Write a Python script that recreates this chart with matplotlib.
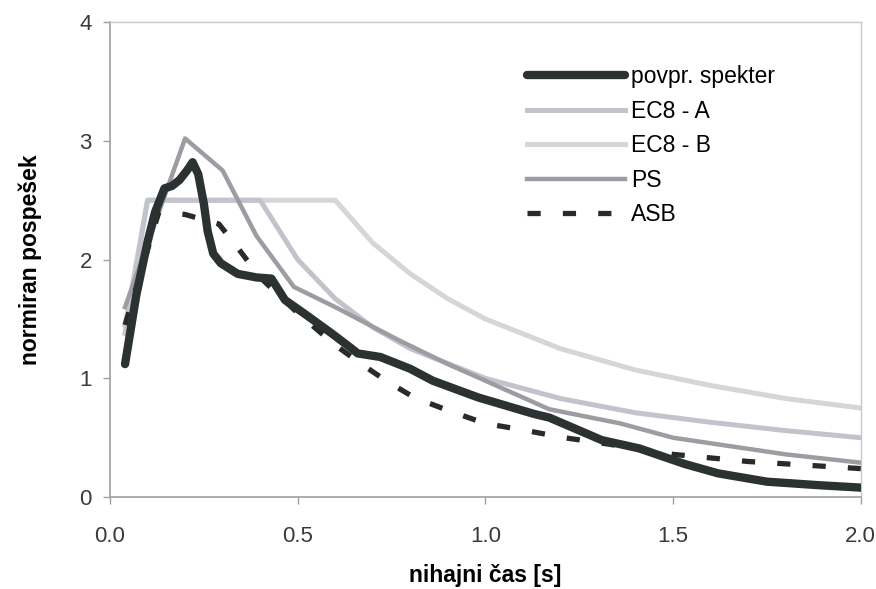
import matplotlib.pyplot as plt

# Values
# povpr. spekter (average spectrum)
avg_t = [0.04, 0.07, 0.10, 0.12, 0.145, 0.165, 0.185, 0.205, 0.22, 0.235, 0.25, 0.26,
         0.275, 0.295, 0.34, 0.39, 0.43, 0.466, 0.52, 0.59, 0.64, 0.66, 0.72, 0.80,
         0.86, 0.98, 1.13, 1.17, 1.31, 1.41, 1.53, 1.62, 1.75, 1.89, 2.0]
avg_sa = [1.12, 1.70, 2.15, 2.40, 2.60, 2.62, 2.67, 2.75, 2.82, 2.72, 2.47, 2.24,
          2.05, 1.97, 1.88, 1.85, 1.84, 1.66, 1.54, 1.38, 1.26, 1.21, 1.18, 1.08,
          0.98, 0.84, 0.70, 0.67, 0.48, 0.41, 0.28, 0.20, 0.13, 0.10, 0.08]

# EC8 - A
ec8a_t = [0.04, 0.10, 0.40, 0.50, 0.60, 0.70, 0.80, 1.0, 1.2, 1.4, 1.6, 1.8, 2.0]
ec8a_sa = [1.38, 2.50, 2.50, 2.00, 1.67, 1.43, 1.25, 1.0, 0.83, 0.71, 0.63, 0.56, 0.50]

# EC8 - B
ec8b_t = [0.04, 0.10, 0.60, 0.70, 0.80, 0.90, 1.0, 1.2, 1.4, 1.6, 1.8, 2.0]
ec8b_sa = [1.45, 2.50, 2.50, 2.14, 1.88, 1.67, 1.50, 1.25, 1.07, 0.94, 0.83, 0.75]

# PS
ps_t = [0.04, 0.20, 0.30, 0.39, 0.49, 0.60, 0.77, 0.90, 1.0, 1.17, 1.36, 1.5, 1.8, 2.0]
ps_sa = [1.60, 3.02, 2.75, 2.20, 1.77, 1.60, 1.32, 1.12, 0.98, 0.74, 0.62, 0.50, 0.36, 0.29]

# ASB
asb_t = [0.04, 0.13, 0.20, 0.29, 0.34, 0.40, 0.50, 0.60, 0.67, 0.74, 0.81, 0.90, 1.0,
         1.11, 1.21, 1.30, 1.50, 1.60, 1.70, 1.80, 1.90, 2.0]
asb_sa = [1.45, 2.40, 2.38, 2.30, 2.10, 1.85, 1.55, 1.28, 1.12, 0.97, 0.84, 0.73, 0.62,
          0.56, 0.50, 0.46, 0.36, 0.33, 0.30, 0.28, 0.26, 0.24]

plt.rcParams['font.family'] = ['Liberation Sans', 'DejaVu Sans']

fig = plt.figure(figsize=(8.76, 5.89), dpi=100)
# plot box: x 110..861 px, y 22..497 px
ax = fig.add_axes([0.1256, 0.156, 0.857, 0.8065])

# light lines first, black average spectrum on top
ax.plot(ec8b_t, ec8b_sa, color='#d6d6d8', lw=3.6, label='EC8 - B', zorder=2)
ax.plot(ec8a_t, ec8a_sa, color='#c3c3cc', lw=3.6, label='EC8 - A', zorder=3)
ax.plot(ps_t, ps_sa, color='#9c9ca2', lw=3.2, label='PS', zorder=4)
ax.plot(asb_t, asb_sa, color='#2a2a2a', lw=3.8, dashes=(2.5, 4.2), label='ASB', zorder=5)
ax.plot(avg_t, avg_sa, color='#2c3131', lw=6.0, solid_capstyle='round',
        label='povpr. spekter', zorder=6)

ax.set_xlim(0, 2.0)
ax.set_ylim(0, 4)
ax.set_xticks([0.0, 0.5, 1.0, 1.5, 2.0])
ax.set_xticklabels(['0.0', '0.5', '1.0', '1.5', '2.0'])
ax.set_yticks([0, 1, 2, 3, 4])

# frame: grey axes, light top/right border
for side in ['left', 'bottom']:
    ax.spines[side].set_color('#a0a0a0')
    ax.spines[side].set_linewidth(1.2)
for side in ['top', 'right']:
    ax.spines[side].set_color('#c8c8c8')
    ax.spines[side].set_linewidth(1.0)

ax.tick_params(axis='both', colors='#a0a0a0', labelcolor='#3a3a3a',
               labelsize=16, length=5, width=1)
ax.tick_params(axis='x', pad=16)
ax.tick_params(axis='y', pad=8)

ax.set_xlabel('nihajni čas [s]', fontsize=16.5, fontweight='bold', labelpad=12)
ax.set_ylabel('normiran pospešek', fontsize=16.5, fontweight='bold', labelpad=27)

# legend order as in the reference
handles, labels = ax.get_legend_handles_labels()
order = ['povpr. spekter', 'EC8 - A', 'EC8 - B', 'PS', 'ASB']
hl = dict(zip(labels, handles))
ax.legend([hl[k] for k in order], order, loc='upper left', frameon=False,
          fontsize=16.5, handlelength=4.3, handletextpad=0.25, labelspacing=0.5,
          borderpad=0, bbox_to_anchor=(0.54, 0.933))

plt.savefig('out.png', dpi=100)
